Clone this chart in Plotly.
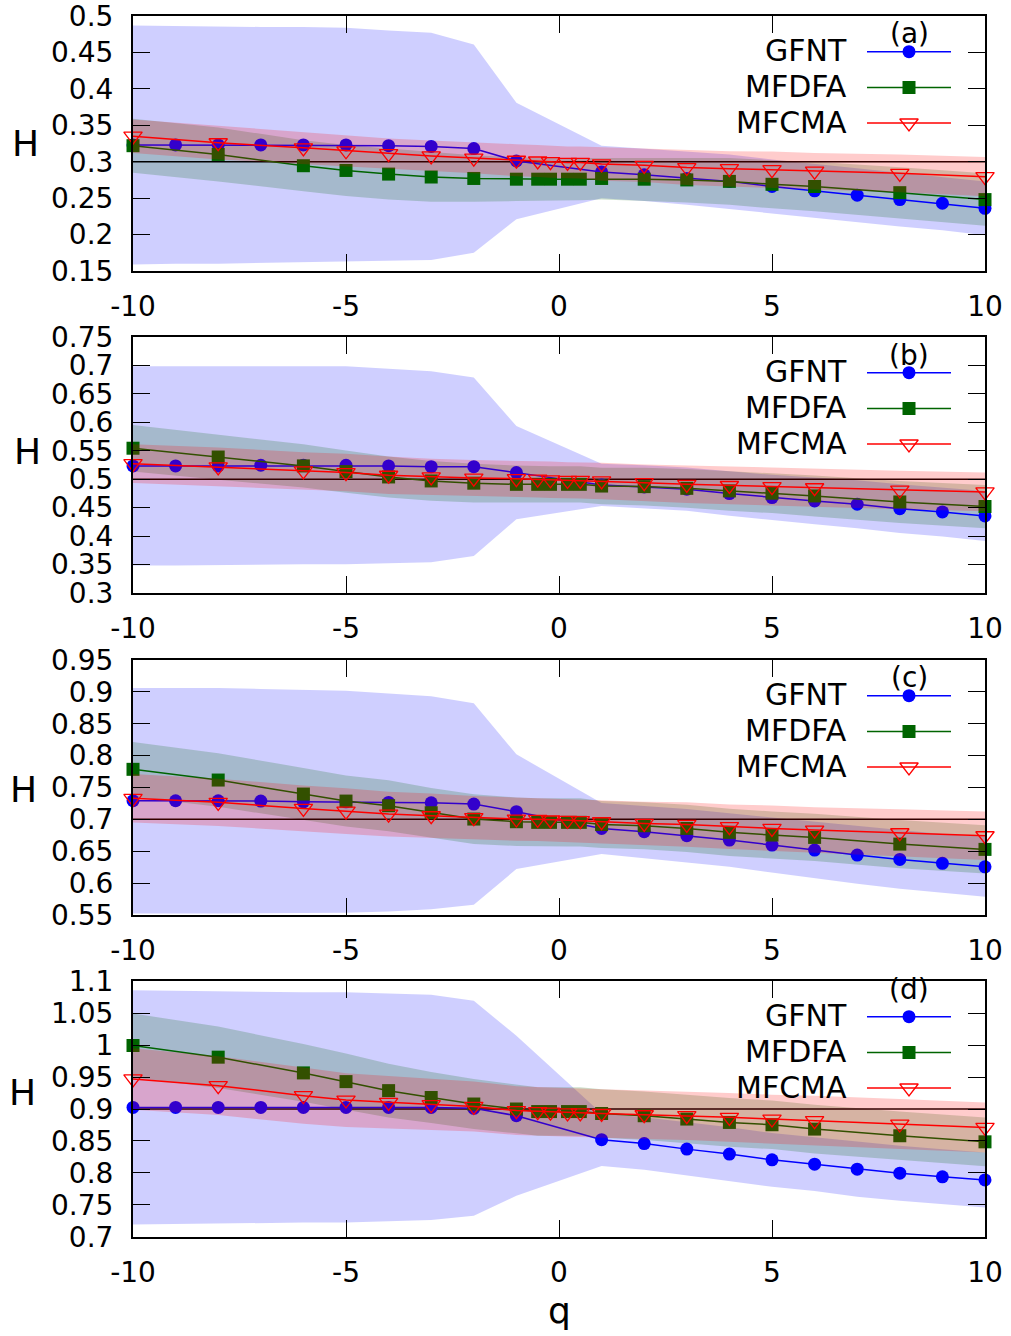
import plotly.graph_objects as go

W, H = 1011, 1336

# ---------------- data ----------------
q_gfnt = [-10, -9, -8, -7, -6, -5, -4, -3, -2, -1, 1, 2, 3, 4, 5, 6, 7, 8, 9, 10]
q_mf = [-10, -8, -6, -5, -4, -3, -2, -1, -0.5, -0.2, 0.2, 0.5, 1, 2, 3, 4, 5, 6, 8, 10]

true_h = [0.3, 0.5, 0.7, 0.9]
panel_labels = ["(a)", "(b)", "(c)", "(d)"]
method_names = ["GFNT", "MFDFA", "MFCMA"]

x_tickvals = [-10, -5, 0, 5, 10]
x_ticktext = ["-10", "-5", "0", "5", "10"]

ytick_a = [0.15, 0.2, 0.25, 0.3, 0.35, 0.4, 0.45, 0.5]
ytick_b = [0.3, 0.35, 0.4, 0.45, 0.5, 0.55, 0.6, 0.65, 0.7, 0.75]
ytick_c = [0.55, 0.6, 0.65, 0.7, 0.75, 0.8, 0.85, 0.9, 0.95]
ytick_d = [0.7, 0.75, 0.8, 0.85, 0.9, 0.95, 1.0, 1.05, 1.1]
ytext_a = ["0.15", "0.2", "0.25", "0.3", "0.35", "0.4", "0.45", "0.5"]
ytext_b = ["0.3", "0.35", "0.4", "0.45", "0.5", "0.55", "0.6", "0.65", "0.7", "0.75"]
ytext_c = ["0.55", "0.6", "0.65", "0.7", "0.75", "0.8", "0.85", "0.9", "0.95"]
ytext_d = ["0.7", "0.75", "0.8", "0.85", "0.9", "0.95", "1", "1.05", "1.1"]

# panel (a)
gfnt_a = [0.323, 0.323, 0.323, 0.323, 0.323, 0.323, 0.322, 0.321, 0.318, 0.301,
          0.286, 0.282, 0.277, 0.273, 0.266, 0.260, 0.254, 0.248, 0.243, 0.236]
gfnt_sd_a = [0.164, 0.163, 0.163, 0.162, 0.162, 0.161, 0.158, 0.156, 0.143, 0.080,
             0.036, 0.036, 0.036, 0.037, 0.037, 0.037, 0.037, 0.037, 0.037, 0.037]
mfdfa_a = [0.322, 0.310, 0.2945, 0.288, 0.283, 0.279, 0.277, 0.276, 0.276, 0.276,
           0.276, 0.276, 0.277, 0.276, 0.275, 0.273, 0.269, 0.266, 0.2575, 0.248]
mfdfa_sd_a = [0.037, 0.037, 0.035, 0.035, 0.035, 0.034, 0.032, 0.030, 0.029, 0.029,
              0.029, 0.029, 0.029, 0.030, 0.031, 0.032, 0.033, 0.034, 0.035, 0.036]
mfcma_a = [0.335, 0.326, 0.319, 0.315, 0.311, 0.308, 0.305, 0.302, 0.301, 0.300,
           0.299, 0.299, 0.297, 0.295, 0.292, 0.2905, 0.289, 0.287, 0.284, 0.2795]
mfcma_sd_a = [0.023, 0.023, 0.022, 0.021, 0.021, 0.021, 0.021, 0.022, 0.022, 0.022,
              0.022, 0.022, 0.023, 0.023, 0.024, 0.024, 0.025, 0.025, 0.026, 0.027]

# panel (b)
gfnt_b = [0.5234, 0.5234, 0.5234, 0.5246, 0.5246, 0.5246, 0.5234, 0.522, 0.522, 0.5116,
          0.490, 0.4865, 0.4824, 0.4747, 0.4677, 0.4619, 0.456, 0.4483, 0.4425, 0.4355]
gfnt_sd_b = [0.175, 0.175, 0.175, 0.175, 0.174, 0.174, 0.171, 0.168, 0.157, 0.082,
             0.037, 0.038, 0.038, 0.039, 0.040, 0.041, 0.042, 0.043, 0.043, 0.044]
mfdfa_b = [0.5545, 0.539, 0.5234, 0.5134, 0.504, 0.497, 0.493, 0.491, 0.491, 0.491,
           0.491, 0.491, 0.488, 0.487, 0.484, 0.4795, 0.4754, 0.4706, 0.460, 0.452]
mfdfa_sd_b = [0.041, 0.040, 0.038, 0.037, 0.036, 0.035, 0.034, 0.033, 0.032, 0.032,
              0.032, 0.032, 0.032, 0.033, 0.034, 0.035, 0.035, 0.036, 0.037, 0.038]
mfcma_b = [0.5274, 0.5216, 0.5146, 0.5117, 0.507, 0.504, 0.502, 0.501, 0.500, 0.499,
           0.498, 0.498, 0.497, 0.494, 0.491, 0.489, 0.487, 0.485, 0.481, 0.4777]
mfcma_sd_b = [0.034, 0.034, 0.033, 0.033, 0.033, 0.032, 0.032, 0.032, 0.032, 0.032,
              0.032, 0.032, 0.032, 0.032, 0.033, 0.033, 0.033, 0.033, 0.034, 0.034]

# panel (c)
gfnt_c = [0.7292, 0.7292, 0.7292, 0.7287, 0.7276, 0.7276, 0.7266, 0.726, 0.724, 0.712,
          0.6858, 0.6806, 0.6743, 0.6675, 0.6597, 0.6518, 0.644, 0.6372, 0.631, 0.6256]
gfnt_sd_c = [0.177, 0.177, 0.177, 0.176, 0.175, 0.174, 0.171, 0.167, 0.158, 0.090,
             0.040, 0.041, 0.042, 0.042, 0.043, 0.044, 0.045, 0.046, 0.046, 0.047]
mfdfa_c = [0.7785, 0.7617, 0.7397, 0.7287, 0.7214, 0.7104, 0.7005, 0.6963, 0.6953, 0.6953,
           0.6953, 0.6953, 0.692, 0.690, 0.6858, 0.6796, 0.6754, 0.6717, 0.6612, 0.6529]
mfdfa_sd_c = [0.043, 0.042, 0.041, 0.040, 0.040, 0.039, 0.039, 0.038, 0.038, 0.038,
              0.038, 0.038, 0.037, 0.037, 0.037, 0.037, 0.037, 0.037, 0.038, 0.038]
mfcma_c = [0.733, 0.7267, 0.7172, 0.713, 0.7083, 0.7057, 0.7026, 0.7005, 0.700, 0.699,
           0.6985, 0.698, 0.6963, 0.6937, 0.692, 0.6885, 0.6858, 0.6832, 0.679, 0.6743]
mfcma_sd_c = [0.038, 0.037, 0.036, 0.036, 0.035, 0.035, 0.034, 0.034, 0.034, 0.034,
              0.034, 0.034, 0.034, 0.034, 0.035, 0.035, 0.036, 0.036, 0.037, 0.038]

# panel (d)
gfnt_d = [0.9025, 0.9025, 0.9025, 0.9025, 0.9025, 0.9025, 0.9025, 0.9025, 0.901, 0.8895,
          0.852, 0.846, 0.8373, 0.8295, 0.8205, 0.8138, 0.806, 0.7997, 0.794, 0.7892]
gfnt_sd_d = [0.183, 0.182, 0.182, 0.181, 0.180, 0.180, 0.178, 0.176, 0.168, 0.125,
             0.041, 0.041, 0.042, 0.042, 0.042, 0.042, 0.043, 0.043, 0.043, 0.043]
mfdfa_d = [0.9992, 0.981, 0.9564, 0.9428, 0.9287, 0.918, 0.9078, 0.900, 0.896, 0.896,
           0.896, 0.896, 0.893, 0.8895, 0.8843, 0.879, 0.8754, 0.8686, 0.8582, 0.8487]
mfdfa_sd_d = [0.050, 0.048, 0.045, 0.044, 0.042, 0.040, 0.039, 0.038, 0.038, 0.038,
              0.038, 0.038, 0.038, 0.038, 0.038, 0.038, 0.038, 0.038, 0.038, 0.038]
mfcma_d = [0.947, 0.9365, 0.9208, 0.914, 0.9104, 0.9068, 0.904, 0.8975, 0.896, 0.895,
           0.894, 0.894, 0.893, 0.891, 0.8895, 0.887, 0.8843, 0.8817, 0.8765, 0.8712]
mfcma_sd_d = [0.048, 0.046, 0.044, 0.042, 0.041, 0.040, 0.039, 0.038, 0.038, 0.038,
              0.038, 0.038, 0.038, 0.038, 0.038, 0.038, 0.038, 0.039, 0.039, 0.039]

# ---------------- style / layout ----------------
FONT = "DejaVu Sans"
BLUE, GREEN, RED = "#0000ff", "#006400", "#ff0000"
BAND_BLUE = "rgba(0,0,255,0.19)"
BAND_GREEN = "rgba(0,100,0,0.2)"
BAND_RED = "rgba(255,0,0,0.2)"

X_LEFT, X_RIGHT = 133, 985
panel_px = [(16, 271), (337, 593), (660, 915), (981, 1237)]
panel_yrange = [(0.15, 0.5), (0.3, 0.75), (0.55, 0.95), (0.7, 1.1)]
h_label_px = [(25, 144), (27, 452), (23, 789), (22, 1092)]
letter_px_y = [34, 355, 677, 989]

panels = [
    (gfnt_a, gfnt_sd_a, mfdfa_a, mfdfa_sd_a, mfcma_a, mfcma_sd_a, ytick_a, ytext_a),
    (gfnt_b, gfnt_sd_b, mfdfa_b, mfdfa_sd_b, mfcma_b, mfcma_sd_b, ytick_b, ytext_b),
    (gfnt_c, gfnt_sd_c, mfdfa_c, mfdfa_sd_c, mfcma_c, mfcma_sd_c, ytick_c, ytext_c),
    (gfnt_d, gfnt_sd_d, mfdfa_d, mfdfa_sd_d, mfcma_d, mfcma_sd_d, ytick_d, ytext_d),
]


def px(x):
    return x / W


def py(y):
    return 1 - y / H


def band(q, v, s, color, xa, ya):
    xs = list(q) + list(q)[::-1]
    ys = [a + b for a, b in zip(v, s)] + [a - b for a, b in zip(v, s)][::-1]
    return go.Scatter(x=xs, y=ys, fill="toself", fillcolor=color, mode="lines",
                      line=dict(width=0), hoverinfo="skip", showlegend=False,
                      xaxis=xa, yaxis=ya)


fig = go.Figure()
layout = dict(
    template="none",
    width=W, height=H, margin=dict(l=0, r=0, t=0, b=0, autoexpand=False),
    paper_bgcolor="white", plot_bgcolor="rgba(0,0,0,0)",
    showlegend=False, font=dict(family=FONT, color="black"),
)
annotations = []

for i, (g, gs, m, ms, c, cs, ytv, ytt) in enumerate(panels):
    n = i + 1
    xa, ya = f"x{n}", f"y{n}"
    top, bot = panel_px[i]
    y0, y1 = panel_yrange[i]
    layout[f"xaxis{n}"] = dict(
        domain=[px(X_LEFT), px(X_RIGHT)], range=[-10, 10], anchor=ya, automargin=False,
        tickvals=x_tickvals, ticktext=x_ticktext, ticks="inside", ticklen=17,
        tickwidth=1.3, tickcolor="black", showline=True, linewidth=2, linecolor="black",
        mirror="allticks", showgrid=False, zeroline=False, ticklabeloverflow="allow",
        tickfont=dict(family=FONT, size=28, color="black"), ticklabelstandoff=9,
    )
    eps = (y1 - y0) * 1e-4
    layout[f"yaxis{n}"] = dict(
        domain=[py(bot), py(top)], range=[y0 - eps, y1 + eps], anchor=xa, automargin=False,
        tickvals=ytv, ticktext=ytt, ticks="inside", ticklen=17,
        tickwidth=1.3, tickcolor="black", showline=True, linewidth=2, linecolor="black",
        mirror="allticks", showgrid=False, zeroline=False, ticklabeloverflow="allow",
        tickfont=dict(family=FONT, size=28, color="black"), ticklabelstandoff=12,
    )

    fig.add_trace(band(q_gfnt, g, gs, BAND_BLUE, xa, ya))
    fig.add_trace(band(q_mf, m, ms, BAND_GREEN, xa, ya))
    fig.add_trace(go.Scatter(x=[-10, 10], y=[true_h[i], true_h[i]], mode="lines",
                             line=dict(color="black", width=1.5), hoverinfo="skip",
                             xaxis=xa, yaxis=ya))
    fig.add_trace(go.Scatter(x=q_gfnt, y=g, mode="lines+markers", name=method_names[0],
                             line=dict(color=BLUE, width=1.5),
                             marker=dict(symbol="circle", size=13, color=BLUE),
                             cliponaxis=False, xaxis=xa, yaxis=ya))
    fig.add_trace(go.Scatter(x=q_mf, y=m, mode="lines+markers", name=method_names[1],
                             line=dict(color=GREEN, width=1.5),
                             marker=dict(symbol="square", size=13, color=GREEN),
                             cliponaxis=False, xaxis=xa, yaxis=ya))
    fig.add_trace(band(q_mf, c, cs, BAND_RED, xa, ya))
    fig.add_trace(go.Scatter(x=q_mf, y=c, mode="lines+markers", name=method_names[2],
                             line=dict(color=RED, width=1.5),
                             marker=dict(symbol="triangle-down-open", size=16, color=RED,
                                         line=dict(width=1.3, color=RED)),
                             cliponaxis=False, xaxis=xa, yaxis=ya))

    # y-axis label and panel letter
    hx, hy = h_label_px[i]
    annotations.append(dict(x=px(hx), y=py(hy), xref="paper", yref="paper", text="H",
                            showarrow=False, xanchor="center", yanchor="middle",
                            font=dict(family=FONT, size=36, color="black")))
    annotations.append(dict(x=px(909), y=py(letter_px_y[i]), xref="paper", yref="paper",
                            text=panel_labels[i], showarrow=False, xanchor="center",
                            yanchor="middle", font=dict(family=FONT, size=28, color="black")))

    # key (text on the left, sample on the right)
    row_offsets = [35.7, 71.5, 107.0]
    styles = [
        (BLUE, dict(symbol="circle", size=13, color=BLUE)),
        (GREEN, dict(symbol="square", size=13, color=GREEN)),
        (RED, dict(symbol="triangle-down-open", size=16, color=RED, line=dict(width=1.3, color=RED))),
    ]
    for k, name in enumerate(method_names):
        ry = top + row_offsets[k]
        annotations.append(dict(x=px(849), y=py(ry - 1), xref="paper", yref="paper", text=name,
                                showarrow=False, xanchor="right", yanchor="middle",
                                font=dict(family=FONT, size=30, color="black")))
        col, mk = styles[k]
        fig.add_trace(go.Scatter(x=[867, 951], y=[ry, ry], mode="lines",
                                 line=dict(color=col, width=1.5), hoverinfo="skip",
                                 xaxis="x5", yaxis="y5"))
        fig.add_trace(go.Scatter(x=[909], y=[ry], mode="markers", marker=mk,
                                 hoverinfo="skip", cliponaxis=False, xaxis="x5", yaxis="y5"))

# overlay pixel-space axes for the key samples
layout["xaxis5"] = dict(domain=[0, 1], range=[0, W], anchor="y5", visible=False,
                        fixedrange=True, automargin=False)
layout["yaxis5"] = dict(domain=[0, 1], range=[H, 0], anchor="x5", visible=False,
                        fixedrange=True, automargin=False)

annotations.append(dict(x=px(559), y=py(1310), xref="paper", yref="paper", text="q",
                        showarrow=False, xanchor="center", yanchor="middle",
                        font=dict(family=FONT, size=36, color="black")))
layout["annotations"] = annotations
fig.update_layout(**layout)
fig.write_html("out.html")
